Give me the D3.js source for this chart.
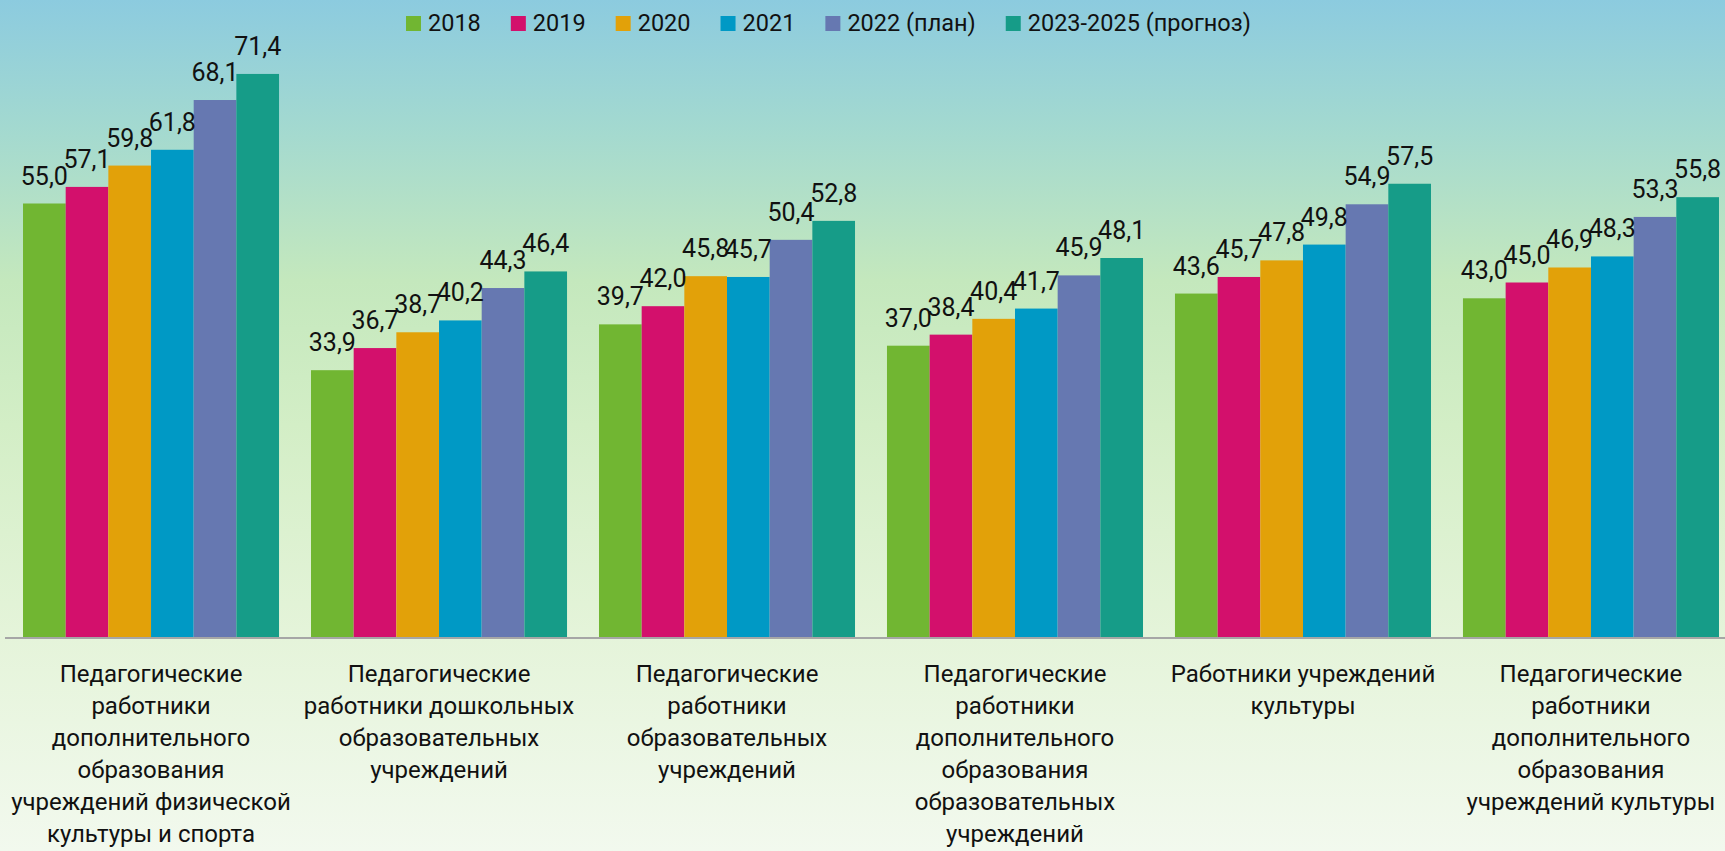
<!DOCTYPE html>
<html>
<head>
<meta charset="utf-8">
<script src="https://cdn.jsdelivr.net/npm/d3@7"></script>
<style>
  body { margin: 0; padding: 0; overflow: hidden; }
  #container { width: 1725px; height: 851px; }
  text { font-family: Roboto, 'Noto Sans', sans-serif; fill: #111; }
</style>
</head>
<body>
<div id="container"></div>
<script>
const w = 1725,
  h = 851;

const categories = [
  ['Педагогические', 'работники', 'дополнительного', 'образования', 'учреждений физической', 'культуры и спорта'],
  ['Педагогические', 'работники дошкольных', 'образовательных', 'учреждений'],
  ['Педагогические', 'работники', 'образовательных', 'учреждений'],
  ['Педагогические', 'работники', 'дополнительного', 'образования', 'образовательных', 'учреждений'],
  ['Работники учреждений', 'культуры'],
  ['Педагогические', 'работники', 'дополнительного', 'образования', 'учреждений культуры']
];
const seriesNames = ['2018', '2019', '2020', '2021', '2022 (план)', '2023-2025 (прогноз)'];
const seriesColors = ['#71b632', '#d3106c', '#e2a109', '#0099c5', '#6678b1', '#169c88'];
const values2018 = [55.0, 33.9, 39.7, 37.0, 43.6, 43.0];
const values2019 = [57.1, 36.7, 42.0, 38.4, 45.7, 45.0];
const values2020 = [59.8, 38.7, 45.8, 40.4, 47.8, 46.9];
const values2021 = [61.8, 40.2, 45.7, 41.7, 49.8, 48.3];
const values2022 = [68.1, 44.3, 50.4, 45.9, 54.9, 53.3];
const values2023 = [71.4, 46.4, 52.8, 48.1, 57.5, 55.8];
const allValues = [values2018, values2019, values2020, values2021, values2022, values2023];

const svg = d3.select('#container').append('svg').attr('width', w).attr('height', h);

// background gradient
const grad = svg.append('defs').append('linearGradient')
  .attr('id', 'bg').attr('x1', 0).attr('y1', 0).attr('x2', 0).attr('y2', 1);
[[0, '#8ccbdf'], [0.15, '#a3d9d0'], [0.33, '#c4e8bd'], [0.5, '#d3eec6'], [0.75, '#e5f4da'], [1, '#f2f9ee']]
  .forEach((s) => grad.append('stop').attr('offset', s[0]).attr('stop-color', s[1]));
svg.append('rect').attr('width', w).attr('height', h).attr('fill', 'url(#bg)');

const catIndex = categories.map((d, i) => i);
const xScale = d3.scaleBand().domain(catIndex).range([7, 1735]).paddingInner(0.111).paddingOuter(0.0556);
const xInner = d3.scaleBand().domain(d3.range(seriesNames.length)).range([0, xScale.bandwidth()]);
const yScale = d3.scaleLinear().domain([0, 80]).range([638, 6]);

// bars
const groups = svg.selectAll('g.group')
  .data(catIndex)
  .enter()
  .append('g')
  .attr('class', 'group')
  .attr('transform', (d) => 'translate(' + xScale(d) + ',0)');

groups.selectAll('rect')
  .data((c) => allValues.map((vals, s) => ({ s: s, v: vals[c] })))
  .enter()
  .append('rect')
  .attr('x', (d) => xInner(d.s))
  .attr('width', xInner.bandwidth())
  .attr('y', (d) => yScale(d.v))
  .attr('height', (d) => yScale(0) - yScale(d.v))
  .attr('fill', (d) => seriesColors[d.s]);

groups.selectAll('text.value')
  .data((c) => allValues.map((vals, s) => ({ s: s, v: vals[c] })))
  .enter()
  .append('text')
  .attr('class', 'value')
  .attr('x', (d) => xInner(d.s) + xInner.bandwidth() / 2)
  .attr('y', (d) => yScale(d.v) - 19)
  .attr('text-anchor', 'middle')
  .style('font-size', '25px')
  .text((d) => d.v.toFixed(1).replace('.', ','));

// axis line
const xAxis = d3.axisBottom(xScale).tickSize(0).tickFormat('');
svg.append('g')
  .attr('transform', 'translate(0,' + yScale(0) + ')')
  .call(xAxis)
  .call((g) => g.select('.domain').attr('stroke', '#a6a6a6').attr('stroke-width', 2).attr('d', 'M5,0H1725'));

// category labels
svg.selectAll('text.cat')
  .data(catIndex)
  .enter()
  .append('text')
  .attr('class', 'cat')
  .attr('text-anchor', 'middle')
  .style('font-size', '24px')
  .each(function (c) {
    const t = d3.select(this);
    categories[c].forEach((line, i) => {
      t.append('tspan')
        .attr('x', xScale(c) + xScale.bandwidth() / 2)
        .attr('y', 682 + i * 32)
        .text(line);
    });
  });

// legend
const legend = svg.append('g').attr('class', 'legend');
let lx = 406;
seriesNames.forEach((name, i) => {
  legend.append('rect')
    .attr('x', lx).attr('y', 16)
    .attr('width', 15).attr('height', 15)
    .attr('fill', seriesColors[i]);
  const t = legend.append('text')
    .attr('x', lx + 22).attr('y', 31)
    .style('font-size', '23.5px')
    .text(name);
  lx += 22 + t.node().getComputedTextLength() + 30;
});
</script>
</body>
</html>
